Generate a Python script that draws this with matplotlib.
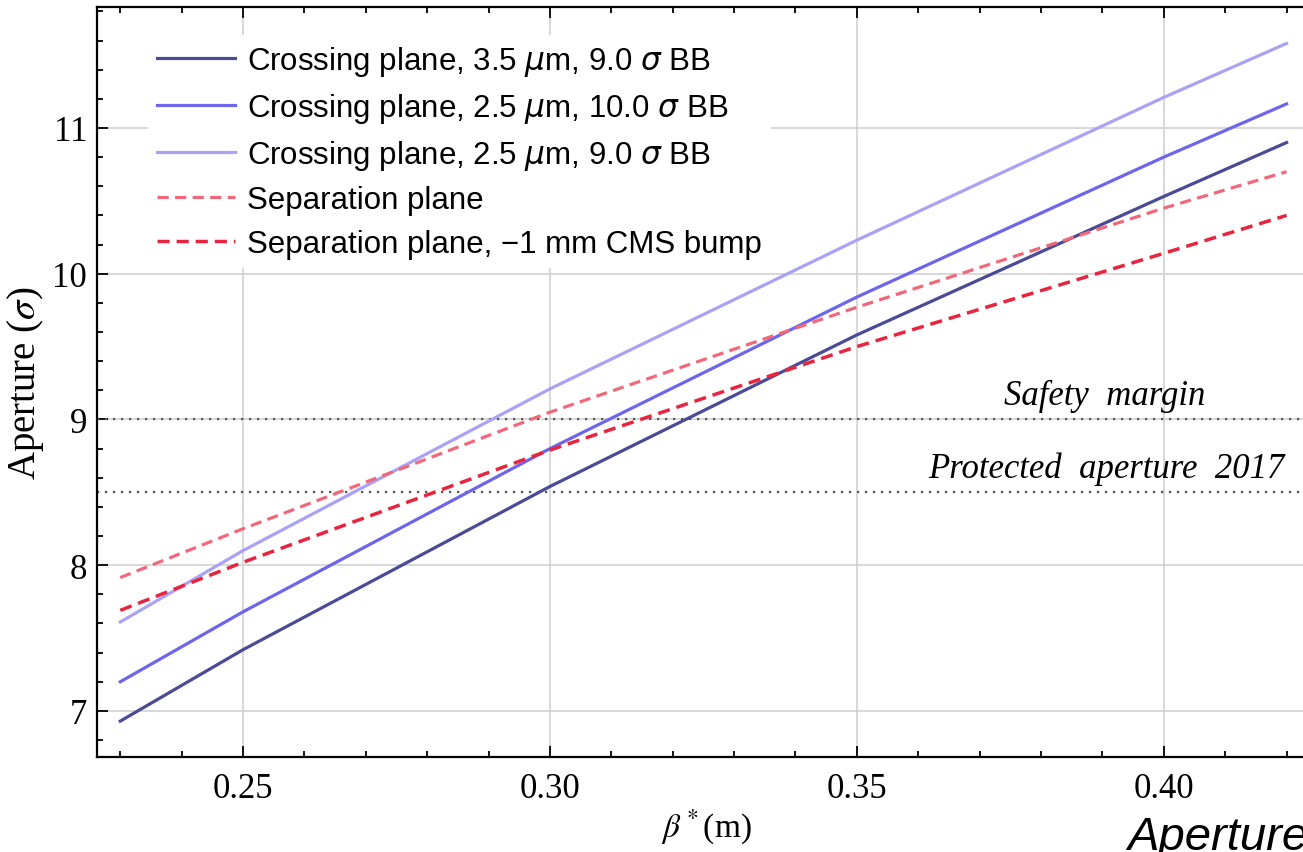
import matplotlib
matplotlib.use("Agg")
import matplotlib.pyplot as plt
from matplotlib.font_manager import FontProperties
from matplotlib.ticker import MultipleLocator, FormatStrFormatter

# beta* (m) sampling points
beta_star = [0.23, 0.25, 0.30, 0.35, 0.40, 0.42]

# aperture in sigma for each case
cross_35_9 = [6.93, 7.42, 8.54, 9.58, 10.53, 10.90]
cross_25_10 = [7.20, 7.68, 8.80, 9.84, 10.80, 11.165]
cross_25_9 = [7.61, 8.10, 9.21, 10.23, 11.21, 11.58]
sep_plane = [7.915, 8.25, 9.05, 9.77, 10.45, 10.70]
sep_bump = [7.69, 8.02, 8.79, 9.50, 10.14, 10.40]

labels = [r"Crossing plane, 3.5 $\mu$m, 9.0 $\sigma$ BB",
          r"Crossing plane, 2.5 $\mu$m, 10.0 $\sigma$ BB",
          r"Crossing plane, 2.5 $\mu$m, 9.0 $\sigma$ BB",
          "Separation plane",
          "Separation plane, \u22121 mm CMS bump"]

safety_margin = 9.0
protected_2017 = 8.5

fig = plt.figure(figsize=(13.03, 8.53), dpi=100)
ax = fig.add_axes([0.0744, 0.1114, 1.01 - 0.0744, 0.9906 - 0.1114])

ax.plot(beta_star, cross_35_9, color="#4b4a96", lw=2.3, label=labels[0])
ax.plot(beta_star, cross_25_10, color="#6e66ea", lw=2.3, label=labels[1])
ax.plot(beta_star, cross_25_9, color="#aaa2f4", lw=2.3, label=labels[2])
ax.plot(beta_star, sep_plane, color="#f0687a", lw=2.3, dashes=(3.5, 2), label=labels[3])
ax.plot(beta_star, sep_bump, color="#e8243e", lw=2.5, dashes=(3.5, 2), label=labels[4])

# reference levels
ax.axhline(safety_margin, color="#555555", lw=1.6, dashes=(1, 2.6), zorder=1)
ax.axhline(protected_2017, color="#555555", lw=1.6, dashes=(1, 2.6), zorder=1)

serif_it = dict(family="Liberation Serif", style="italic", fontsize=25)
ax.text(0.3903, safety_margin + 0.05, "Safety  margin", ha="center", va="bottom", **serif_it)
ax.text(0.4196, protected_2017 + 0.05, "Protected  aperture  2017", ha="right", va="bottom", **serif_it)

ax.set_xlim(0.2262, 0.4248)
ax.set_ylim(6.684, 11.83)

ax.xaxis.set_major_locator(MultipleLocator(0.05))
ax.xaxis.set_minor_locator(MultipleLocator(0.01))
ax.xaxis.set_major_formatter(FormatStrFormatter("%.2f"))
ax.yaxis.set_major_locator(MultipleLocator(1))
ax.yaxis.set_minor_locator(MultipleLocator(0.2))

ax.tick_params(which="both", direction="in", top=True, right=True, width=1.3)
ax.tick_params(which="major", length=8, labelsize=25)
ax.tick_params(axis="x", which="major", pad=11)
ax.tick_params(axis="y", which="major", pad=7)
ax.tick_params(which="minor", length=4)
for lab in ax.get_xticklabels() + ax.get_yticklabels():
    lab.set_family("Liberation Serif")

for sp in ax.spines.values():
    sp.set_linewidth(1.6)

ax.grid(True, which="major", color="#d2d2d2", lw=1.2)
ax.set_axisbelow(True)

ax.set_xlabel(r"$\beta^*$(m)", fontsize=24, family="Liberation Serif",
              math_fontfamily="stix", labelpad=1)
ax.set_ylabel(r"Aperture ($\sigma$)", fontsize=28, family="Liberation Serif",
              math_fontfamily="stix", labelpad=5)

leg_font = FontProperties(family="Liberation Sans", size=22.5, math_fontfamily="dejavusans")
leg = ax.legend(loc="upper left", bbox_to_anchor=(0.0287, 0.984), prop=leg_font,
                frameon=True, fancybox=False, framealpha=1, facecolor="white",
                edgecolor="none", handlelength=2.5, handletextpad=0.38,
                labelspacing=0.42, borderpad=0.3)

fig.text(1127 / 1303, 0.004, "Aperture", ha="left", va="baseline", fontsize=34,
         family="Liberation Sans", style="italic")

fig.savefig("out.png", dpi=100)
